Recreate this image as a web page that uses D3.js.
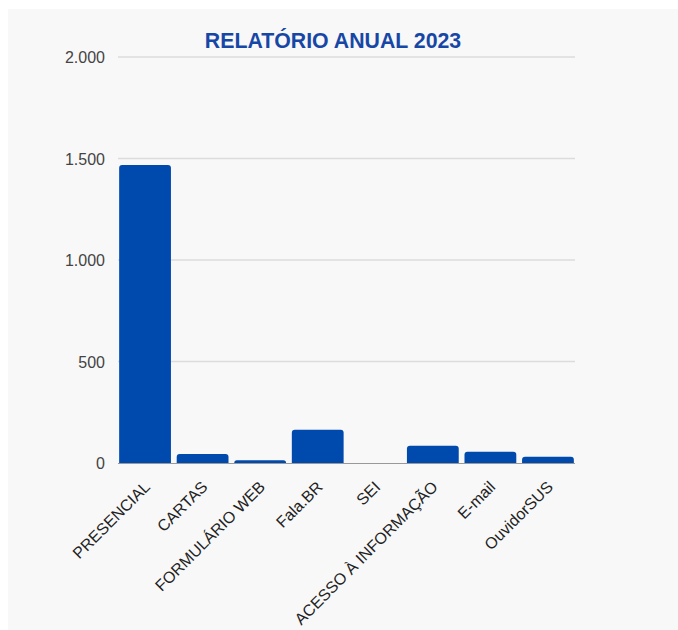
<!DOCTYPE html>
<html><head><meta charset="utf-8">
<script src="https://cdn.jsdelivr.net/npm/d3@7"></script>
<style>body{margin:0;background:#fff}svg{display:block}</style>
</head><body>
<script>
const categories = ["PRESENCIAL","CARTAS","FORMULÁRIO WEB","Fala.BR","SEI","ACESSO À INFORMAÇÃO","E-mail","OuvidorSUS"];
const values = [1468, 44, 13, 164, 0, 85, 56, 31];
const yTicks = [0, 500, 1000, 1500, 2000];
const title = "RELATÓRIO ANUAL 2023";

(function () {
const W = 678, H = 630;
const svg = d3.select("body").append("svg").attr("width", W).attr("height", H);
svg.append("rect").attr("x", 8).attr("y", 9).attr("width", W - 8).attr("height", H - 9).attr("fill", "#f8f8f8");

const mLeft = 118, mRight = 575, mTop = 57, mBottom = 463;
const x = d3.scaleBand().domain(categories).range([mLeft, mRight]).paddingInner(0.1).paddingOuter(0.02);
const y = d3.scaleLinear().domain([0, 2000]).range([mBottom, mTop]);
const fmt = v => d3.format(",")(v).replace(/,/g, ".");

// gridlines
svg.append("g").selectAll("line").data(yTicks.filter(t => t > 0)).join("line")
  .attr("x1", mLeft).attr("x2", mRight).attr("y1", d => y(d)).attr("y2", d => y(d))
  .attr("stroke", "#dcdcdc").attr("stroke-width", 1.5);

// y labels
const yAxis = d3.axisLeft(y).tickValues(yTicks).tickFormat(fmt).tickSize(0).tickPadding(0);
const ga = svg.append("g").attr("transform", `translate(${mLeft - 13},0)`).call(yAxis);
ga.select(".domain").remove();
ga.selectAll("text").attr("font-family", "Liberation Sans, Arial, sans-serif").attr("font-size", 16).attr("fill", "#444").attr("dy", "0.35em");

// bars with rounded top
const r = 3;
svg.append("g").selectAll("path").data(categories).join("path")
  .attr("fill", "#004aad")
  .attr("d", (c, i) => {
    const x0 = x(c), w = x.bandwidth(), y0 = y(values[i]), yb = y(0);
    const h = yb - y0;
    if (h <= 0) return "";
    const rr = Math.min(r, h, w / 2);
    return `M${x0},${yb}V${y0 + rr}Q${x0},${y0} ${x0 + rr},${y0}H${x0 + w - rr}Q${x0 + w},${y0} ${x0 + w},${y0 + rr}V${yb}Z`;
  });

// baseline
svg.append("line").attr("x1", mLeft).attr("x2", mRight).attr("y1", y(0) + 0.5).attr("y2", y(0) + 0.5)
  .attr("stroke", "#999").attr("stroke-width", 1);

// x labels
svg.append("g").selectAll("text").data(categories).join("text")
  .attr("transform", c => `translate(${x(c) + x.bandwidth() / 2 + 6},${488}) rotate(-45)`)
  .attr("text-anchor", "end")
  .attr("font-family", "Liberation Sans, Arial, sans-serif").attr("font-size", 16).attr("fill", "#222")
  .text(c => c);

// title
svg.append("text").attr("x", 333).attr("y", 48).attr("text-anchor", "middle")
  .attr("font-family", "Liberation Sans, Arial, sans-serif").attr("font-weight", "bold")
  .attr("font-size", 21.3).attr("fill", "#1747a6").text(title);
})();
</script>
</body></html>
